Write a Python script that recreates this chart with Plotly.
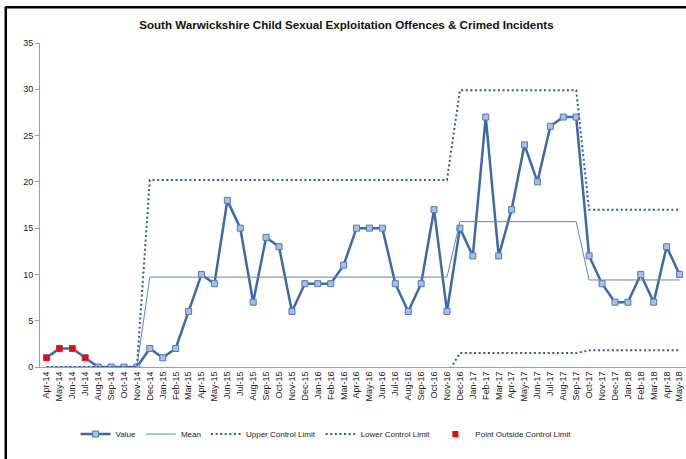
import plotly.graph_objects as go

months = ["Apr-14","May-14","Jun-14","Jul-14","Aug-14","Sep-14","Oct-14","Nov-14","Dec-14",
          "Jan-15","Feb-15","Mar-15","Apr-15","May-15","Jun-15","Jul-15","Aug-15","Sep-15","Oct-15","Nov-15","Dec-15",
          "Jan-16","Feb-16","Mar-16","Apr-16","May-16","Jun-16","Jul-16","Aug-16","Sep-16","Oct-16","Nov-16","Dec-16",
          "Jan-17","Feb-17","Mar-17","Apr-17","May-17","Jun-17","Jul-17","Aug-17","Sep-17","Oct-17","Nov-17","Dec-17",
          "Jan-18","Feb-18","Mar-18","Apr-18","May-18"]

values = [1,2,2,1,0,0,0,0,2,
          1,2,6,10,9,18,15,7,14,13,6,9,
          9,9,11,15,15,15,9,6,9,17,6,15,
          12,27,12,17,24,20,26,27,27,12,9,7,
          7,10,7,13,10]

mean = [0]*8 + [9.71]*24 + [15.7]*10 + [9.4]*8
ucl = [0]*8 + [20.2]*24 + [29.9]*10 + [17.0]*8
lcl = [0]*8 + [-0.8]*24 + [1.5]*10 + [1.8]*8

outside_idx = [0, 1, 2, 3]
outside_x = [months[i] for i in outside_idx]
outside_y = [values[i] for i in outside_idx]

dark_blue = "#2F5C9A"
line_blue = "#3C69A8"
mean_blue = "#5B86C0"

fig = go.Figure()
fig.add_trace(go.Scatter(x=months, y=values, name="Value", mode="lines+markers",
                         line=dict(color=line_blue, width=2.5),
                         marker=dict(symbol="square", size=6, color="#A7BFE0",
                                     line=dict(color="#4F7BB8", width=1))))
fig.add_trace(go.Scatter(x=months, y=mean, name="Mean", mode="lines",
                         line=dict(color=mean_blue, width=1)))
fig.add_trace(go.Scatter(x=months, y=ucl, name="Upper Control Limit", mode="lines",
                         line=dict(color=dark_blue, width=2, dash="2px,2.6px")))
fig.add_trace(go.Scatter(x=months, y=lcl, name="Lower Control Limit", mode="lines",
                         line=dict(color=dark_blue, width=2, dash="2px,2.6px")))
fig.add_trace(go.Scatter(x=outside_x, y=outside_y, name="Point Outside Control Limit", mode="markers",
                         marker=dict(symbol="square", size=6, color="#FF0000")))

fig.update_layout(
    width=686, height=459,
    margin=dict(l=40, r=0, t=43, b=92),
    paper_bgcolor="white", plot_bgcolor="white",
    font=dict(family="Liberation Sans, Arial, sans-serif", size=8, color="#222222"),
    title=dict(text="<b>South Warwickshire Child Sexual Exploitation Offences & Crimed Incidents</b>",
               x=0.505, xanchor="center", y=0.945, yanchor="middle",
               font=dict(family="Liberation Sans, Arial, sans-serif", size=11.6, color="#111111")),
    showlegend=True,
    legend=dict(orientation="h", x=0.055, xanchor="left", y=-0.207, yanchor="middle",
                font=dict(size=8), itemwidth=30, traceorder="normal"),
)
fig.update_xaxes(type="category", showgrid=False, showline=True, linecolor="#A0A0A0", linewidth=1,
                 tickangle=-90, ticks="", tickfont=dict(size=9), range=[-0.5, 49.5])
fig.update_yaxes(range=[0, 35], dtick=5, showgrid=False, showline=True, linecolor="#A0A0A0",
                 linewidth=1, ticks="outside", ticklen=4, tickcolor="#A0A0A0", zeroline=False,
                 tickfont=dict(size=9))

fig.add_shape(type="line", xref="paper", yref="paper", x0=-0.053, x1=-0.053, y0=-0.3, y1=1.113,
              line=dict(color="black", width=2.5))
fig.add_shape(type="line", xref="paper", yref="paper", x0=-0.053, x1=1.02, y0=1.11, y1=1.11,
              line=dict(color="black", width=2.5))

fig.write_html("out.html", config={"displayModeBar": False},
               post_script="document.body.style.margin='0';document.body.style.overflow='hidden';")
